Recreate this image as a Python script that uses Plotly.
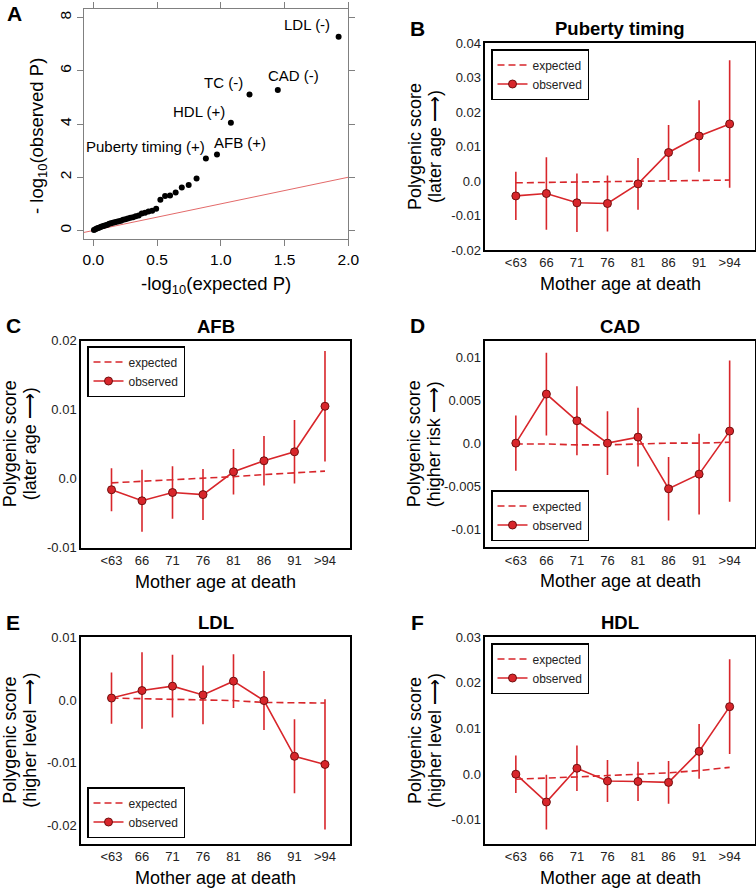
import plotly.graph_objects as go

# Panel A: QQ plot of trait associations
qq_expected = [1.924, 1.447, 1.225, 1.079, 0.970, 0.883, 0.810, 0.748, 0.694, 0.646,
               0.602, 0.563, 0.526, 0.493, 0.462, 0.433, 0.406, 0.380, 0.356, 0.333,
               0.312, 0.291, 0.271, 0.252, 0.234, 0.217, 0.200, 0.184, 0.168, 0.153,
               0.139, 0.125, 0.111, 0.098, 0.085, 0.073, 0.061, 0.049, 0.038, 0.027,
               0.016, 0.005]
qq_observed = [7.28, 5.28, 5.11, 4.05, 2.85, 2.70, 1.95, 1.71, 1.61, 1.43,
               1.31, 1.30, 1.15, 0.82, 0.74, 0.71, 0.67, 0.64, 0.56, 0.53,
               0.50, 0.48, 0.45, 0.42, 0.40, 0.37, 0.35, 0.33, 0.31, 0.29,
               0.27, 0.25, 0.22, 0.20, 0.18, 0.16, 0.14, 0.11, 0.09, 0.07,
               0.05, 0.02]
qq_labels = ["LDL (-)", "CAD (-)", "TC (-)", "HDL (+)", "AFB (+)", "Puberty timing (+)"]
qq_label_shift = [(-32, 12), (16, 14), (-26, 12), (-32, 11), (23, 12), (-60, 12)]
diag = [-0.2, 2.2]

# Panels B-F: polygenic score by mother age at death
ages = ["<63", "66", "71", "76", "81", "86", "91", ">94"]

puberty_obs = [-0.0043, -0.0036, -0.0063, -0.0065, -0.0008, 0.0083, 0.0131, 0.0166]
puberty_err = [0.0070, 0.0105, 0.0085, 0.0081, 0.0075, 0.0080, 0.0104, 0.0185]
puberty_exp = [-0.0005, -0.0004, -0.0003, -0.0002, -0.0001, 0.0001, 0.0002, 0.0003]

afb_obs = [-0.0016, -0.0032, -0.0020, -0.0023, 0.0010, 0.0026, 0.0039, 0.0105]
afb_err = [0.0031, 0.0045, 0.0038, 0.0037, 0.0033, 0.0036, 0.0046, 0.0080]
afb_exp = [-0.0006, -0.0004, -0.0002, 0.0000, 0.0003, 0.0006, 0.0008, 0.0011]

cad_obs = [0.0000, 0.0057, 0.0026, 0.0000, 0.0007, -0.0053, -0.0036, 0.0014]
cad_err = [0.0032, 0.0048, 0.0040, 0.0037, 0.0034, 0.0037, 0.0047, 0.0082]
cad_exp = [-0.0001, -0.0001, -0.0002, -0.0002, -0.0001, 0.0000, 0.0000, 0.0001]

ldl_obs = [0.0003, 0.0015, 0.0022, 0.0008, 0.0030, -0.0001, -0.0090, -0.0103]
ldl_err = [0.0041, 0.0061, 0.0050, 0.0047, 0.0043, 0.0047, 0.0059, 0.0104]
ldl_exp = [0.0003, 0.0002, 0.0002, 0.0000, -0.0001, -0.0004, -0.0005, -0.0005]

hdl_obs = [0.0000, -0.0061, 0.0013, -0.0015, -0.0016, -0.0018, 0.0050, 0.0148]
hdl_err = [0.0041, 0.0060, 0.0050, 0.0046, 0.0043, 0.0047, 0.0060, 0.0104]
hdl_exp = [-0.0011, -0.0009, -0.0006, -0.0003, 0.0000, 0.0003, 0.0008, 0.0015]

W, H = 756, 888
FONT = "Liberation Sans, Arial, Helvetica, sans-serif"
RED = "#d8262b"


def px(x):
    return x / W


def py(y):
    return 1 - y / H


def paper_text(x, y, text, size, angle=0):
    # centred text placed by pixel position
    return dict(x=px(x), y=py(y), xref="paper", yref="paper", text=text,
                showarrow=False, xanchor="center", yanchor="middle",
                textangle=angle, font=dict(size=size, color="black"))


fig = go.Figure()

# ---- panel A ----
fig.add_trace(go.Scatter(x=diag, y=diag, mode="lines", line=dict(color="#e36a6a", width=1),
                         xaxis="x", yaxis="y", showlegend=False, hoverinfo="skip"))
fig.add_trace(go.Scatter(x=qq_expected, y=qq_observed, mode="markers",
                         marker=dict(color="black", size=6), xaxis="x", yaxis="y",
                         showlegend=False))

annotations = []
for i, lab in enumerate(qq_labels):
    annotations.append(dict(x=qq_expected[i], y=qq_observed[i], xref="x", yref="y",
                            text=lab, showarrow=False, xanchor="center", yanchor="middle",
                            xshift=qq_label_shift[i][0], yshift=qq_label_shift[i][1],
                            font=dict(size=15, color="black")))

# ---- panels B-F ----
panels = [
    dict(title="Puberty timing", letter="B", obs=puberty_obs, err=puberty_err, exp=puberty_exp,
         ylab="(later age ⟶)", yrange=[-0.02, 0.04],
         ticks=[-0.02, -0.01, 0.0, 0.01, 0.02, 0.03, 0.04],
         box=(485.3, 754.7, 43.3, 250), leg=("top", 491, 49)),
    dict(title="AFB", letter="C", obs=afb_obs, err=afb_err, exp=afb_exp,
         ylab="(later age ⟶)", yrange=[-0.01, 0.02],
         ticks=[-0.01, 0.0, 0.01, 0.02],
         box=(81, 350, 340.7, 547.7), leg=("top", 87, 346)),
    dict(title="CAD", letter="D", obs=cad_obs, err=cad_err, exp=cad_exp,
         ylab="(higher risk ⟶)", yrange=[-0.0121, 0.0119],
         ticks=[-0.01, -0.005, 0.0, 0.005, 0.01],
         box=(485.3, 754.7, 340.7, 547.3), leg=("bottom", 491, 541)),
    dict(title="LDL", letter="E", obs=ldl_obs, err=ldl_err, exp=ldl_exp,
         ylab="(higher level ⟶)", yrange=[-0.023, 0.01],
         ticks=[-0.02, -0.01, 0.0, 0.01],
         box=(81, 350, 637.3, 844), leg=("bottom", 87, 838)),
    dict(title="HDL", letter="F", obs=hdl_obs, err=hdl_err, exp=hdl_exp,
         ylab="(higher level ⟶)", yrange=[-0.0153, 0.03],
         ticks=[-0.01, 0.0, 0.01, 0.02, 0.03],
         box=(485.3, 754.7, 637.3, 844), leg=("top", 491, 643)),
]


def fmt(v):
    if abs(v) < 1e-12:
        return "0.0"
    return ("%.3f" % v).rstrip("0")


layout_axes = {}
legends = {}
for k, p in enumerate(panels):
    n = k + 2
    xa, ya = "x%d" % n, "y%d" % n
    leg = "legend" if k == 0 else "legend%d" % (k + 1)
    fig.add_trace(go.Scatter(x=ages, y=p["exp"], mode="lines", name="expected",
                             line=dict(color=RED, width=1.6, dash="7px,4px"),
                             xaxis=xa, yaxis=ya, legend=leg))
    fig.add_trace(go.Scatter(x=ages, y=p["obs"], mode="lines+markers", name="observed",
                             line=dict(color=RED, width=1.6),
                             marker=dict(color=RED, size=8, line=dict(color="#701010", width=1)),
                             error_y=dict(type="data", array=p["err"], color=RED,
                                          thickness=1.6, width=0),
                             xaxis=xa, yaxis=ya, legend=leg))
    x0, x1, y0, y1 = p["box"]
    layout_axes["xaxis%d" % n] = dict(
        domain=[px(x0), px(x1)], anchor=ya, type="category", range=[-1, 7.82],
        showline=True, mirror=True, linecolor="black", linewidth=1.5,
        ticks="", showgrid=False, zeroline=False, tickfont=dict(size=13, color="#222"))
    layout_axes["yaxis%d" % n] = dict(
        domain=[py(y1), py(y0)], anchor=xa, range=p["yrange"],
        tickvals=p["ticks"], ticktext=[fmt(t) for t in p["ticks"]],
        showline=True, mirror=True, linecolor="black", linewidth=1.5,
        ticks="", showgrid=False, zeroline=False, tickfont=dict(size=13, color="#222"))
    anchor, lx, ly = p["leg"]
    legends[leg] = dict(x=px(lx), y=py(ly), xanchor="left", yanchor=anchor,
                        bordercolor="black", borderwidth=1.5, bgcolor="white",
                        font=dict(size=12, color="#222"), tracegroupgap=0)
    cx = (x0 + x1) / 2
    cy = (y0 + y1) / 2
    annotations.append(paper_text(cx, y0 - 14.5, "<b>%s</b>" % p["title"], 18.5))
    annotations.append(paper_text(x0 - 68, y0 - 15, "<b>%s</b>" % p["letter"], 21))
    annotations.append(paper_text(cx, y1 + 34, "Mother age at death", 18))
    annotations.append(paper_text(x0 - 71, cy, "Polygenic score", 18, -90))
    annotations.append(paper_text(x0 - 51, cy, p["ylab"], 18, -90))

# panel A letter and axis titles
annotations.append(paper_text(14.5, 13.5, "<b>A</b>", 21))
annotations.append(paper_text(216, 285, "-log<sub>10</sub>(expected P)", 18.5))
annotations.append(paper_text(38, 136, "- log<sub>10</sub>(observed P)", 18.5, -90))

fig.update_layout(
    width=W, height=H, margin=dict(l=0, r=0, t=0, b=0, pad=0, autoexpand=False),
    paper_bgcolor="white", plot_bgcolor="white",
    font=dict(family=FONT, color="black"),
    xaxis=dict(domain=[px(84), px(348.3)], anchor="y", range=[-0.073, 2.0],
               tickvals=[0, 0.5, 1.0, 1.5, 2.0], tickformat=".1f",
               ticks="outside", ticklen=6, tickcolor="#808080",
               showline=True, mirror="ticks", linecolor="#808080", linewidth=1.2,
               showgrid=False, zeroline=False, tickfont=dict(size=15.5)),
    yaxis=dict(domain=[py(239), py(9)], anchor="x", range=[-0.32, 8.32],
               tickvals=[0, 2, 4, 6, 8], tickangle=-90,
               ticks="outside", ticklen=6, tickcolor="#808080",
               showline=True, mirror="ticks", linecolor="#808080", linewidth=1.2,
               showgrid=False, zeroline=False, tickfont=dict(size=15.5)),
    annotations=annotations,
    **layout_axes,
    **legends,
)

# the page body has a default 8px margin; drop it so the figure sits at the corner
fig.write_html("out.html", config={"displayModeBar": False},
               post_script="document.body.style.margin='0px';")
